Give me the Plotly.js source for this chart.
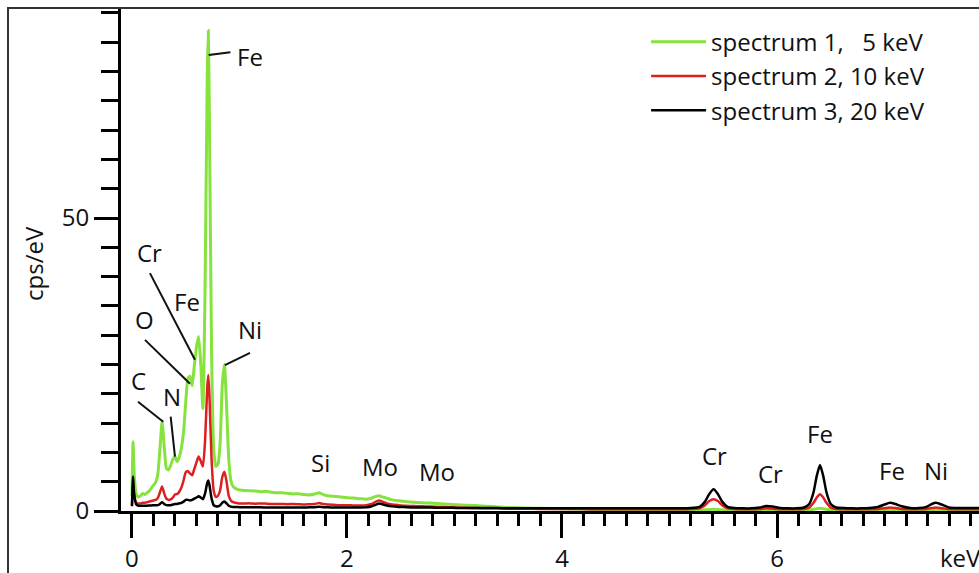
<!DOCTYPE html>
<html>
<head>
<meta charset="utf-8">
<script src="https://cdn.plot.ly/plotly-3.0.1.min.js"></script>
<style>html,body{margin:0;padding:0;background:#fff;}#chart{width:979px;height:573px;}</style>
</head>
<body>
<div id="chart"></div>
<script>
// Energy axis (keV)
const energy = [
  0.00, 0.01, 0.02, 0.04, 0.06, 0.08, 0.10, 0.12, 0.14, 0.16,
  0.18, 0.20, 0.22, 0.24, 0.26, 0.28, 0.30, 0.32, 0.34, 0.36,
  0.38, 0.40, 0.42, 0.44, 0.46, 0.48, 0.50, 0.52, 0.54, 0.56,
  0.58, 0.60, 0.62, 0.64, 0.66, 0.68, 0.70, 0.71, 0.72, 0.74,
  0.76, 0.78, 0.80, 0.82, 0.84, 0.86, 0.88, 0.90, 0.92, 0.94,
  0.96, 0.98, 1.00, 1.05, 1.10, 1.15, 1.20, 1.25, 1.30, 1.35,
  1.40, 1.45, 1.50, 1.55, 1.60, 1.65, 1.70, 1.74, 1.78, 1.82,
  1.88, 1.94, 2.00, 2.06, 2.12, 2.18, 2.23, 2.27, 2.30, 2.33,
  2.37, 2.42, 2.48, 2.55, 2.62, 2.70, 2.78, 2.86, 2.94, 3.02,
  3.10, 3.20, 3.30, 3.40, 3.50, 3.65, 3.80, 3.95, 4.10, 4.25,
  4.40, 4.55, 4.70, 4.85, 5.00, 5.10, 5.20, 5.28, 5.33, 5.37,
  5.41, 5.45, 5.49, 5.54, 5.60, 5.68, 5.76, 5.84, 5.90, 5.96,
  6.03, 6.10, 6.18, 6.25, 6.30, 6.34, 6.37, 6.40, 6.43, 6.46,
  6.50, 6.55, 6.62, 6.70, 6.78, 6.86, 6.94, 7.00, 7.05, 7.10,
  7.16, 7.24, 7.32, 7.39, 7.44, 7.48, 7.53, 7.60, 7.68, 7.76,
  7.84, 7.92
];

// spectrum 1, 5 keV (cps/eV)
const spectrum1 = [
  2.5, 11.8, 6.5, 2.8, 2.4, 2.6, 3.0, 2.8, 3.1, 3.4,
  3.9, 4.4, 4.9, 6.2, 10.5, 15.3, 11.0, 7.3, 7.0, 7.8,
  8.8, 9.3, 8.4, 9.2, 10.8, 13.5, 18.5, 22.6, 23.0, 21.4,
  24.8, 28.0, 29.8, 25.0, 17.5, 38.0, 74.0, 82.0, 68.0, 28.0,
  10.5, 7.6, 8.0, 11.5, 21.5, 25.0, 18.0, 9.0, 5.2, 4.2,
  3.9, 3.7, 3.6, 3.5, 3.45, 3.4, 3.3, 3.35, 3.2, 3.1,
  3.1, 3.0, 2.9, 2.95, 2.8, 2.75, 2.9, 3.1, 2.8, 2.6,
  2.5, 2.4, 2.25, 2.2, 2.1, 2.0, 2.2, 2.5, 2.6, 2.4,
  2.2, 1.9, 1.75, 1.6, 1.5, 1.4, 1.35, 1.25, 1.15, 1.05,
  1.0, 0.95, 0.8, 0.7, 0.6, 0.5, 0.45, 0.4, 0.35, 0.3,
  0.25, 0.2, 0.2, 0.15, 0.15, 0.15, 0.15, 0.15, 0.2, 0.25,
  0.3, 0.25, 0.2, 0.15, 0.15, 0.15, 0.15, 0.15, 0.2, 0.15,
  0.15, 0.15, 0.15, 0.15, 0.2, 0.3, 0.4, 0.45, 0.4, 0.3,
  0.2, 0.15, 0.15, 0.15, 0.15, 0.15, 0.15, 0.15, 0.2, 0.15,
  0.15, 0.15, 0.15, 0.15, 0.15, 0.2, 0.15, 0.15, 0.15, 0.15,
  0.15, 0.15
];

// spectrum 2, 10 keV (cps/eV)
const spectrum2 = [
  1.0, 4.5, 2.5, 1.4, 1.3, 1.3, 1.4, 1.4, 1.5, 1.6,
  1.7, 1.8, 1.9, 2.2, 3.2, 4.2, 3.0, 2.1, 1.9, 2.0,
  2.3, 2.8, 2.9, 3.3, 4.0, 5.2, 6.6, 6.8, 6.4, 6.1,
  7.2, 8.3, 9.3, 8.5, 7.6, 12.0, 21.0, 23.2, 20.0, 9.0,
  3.5, 2.4, 2.6, 3.5, 5.8, 6.7, 5.0, 2.6, 1.8, 1.5,
  1.4, 1.35, 1.3, 1.3, 1.3, 1.25, 1.3, 1.25, 1.2, 1.2,
  1.2, 1.15, 1.2, 1.15, 1.1, 1.15, 1.2, 1.35, 1.2, 1.1,
  1.05, 1.0, 1.0, 0.95, 0.95, 1.0, 1.2, 1.6, 1.8, 1.6,
  1.3, 1.1, 1.0, 0.9, 0.85, 0.8, 0.75, 0.7, 0.65, 0.6,
  0.55, 0.5, 0.45, 0.45, 0.4, 0.4, 0.35, 0.35, 0.35, 0.3,
  0.3, 0.3, 0.3, 0.3, 0.3, 0.3, 0.35, 0.45, 1.0, 1.7,
  2.0, 1.7, 1.0, 0.45, 0.35, 0.3, 0.3, 0.35, 0.45, 0.4,
  0.3, 0.3, 0.3, 0.35, 0.6, 1.4, 2.3, 2.85, 2.3, 1.4,
  0.6, 0.35, 0.3, 0.3, 0.3, 0.3, 0.35, 0.45, 0.6, 0.5,
  0.35, 0.3, 0.3, 0.35, 0.5, 0.6, 0.45, 0.3, 0.3, 0.3,
  0.3, 0.3
];

// spectrum 3, 20 keV (cps/eV)
const spectrum3 = [
  0.8, 5.9, 3.0, 1.1, 0.9, 0.9, 0.9, 0.9, 0.9, 0.95,
  0.95, 1.0, 1.0, 1.0, 1.2, 1.5, 1.2, 1.0, 1.0, 1.0,
  1.1, 1.2, 1.2, 1.3, 1.4, 1.6, 1.9, 1.9, 1.8, 1.9,
  2.1, 2.3, 2.5, 2.3, 2.0, 3.0, 4.8, 5.2, 4.5, 2.2,
  1.0, 0.8, 0.8, 1.0, 1.4, 1.6, 1.3, 0.9, 0.75, 0.7,
  0.7, 0.68, 0.65, 0.65, 0.65, 0.62, 0.62, 0.6, 0.6, 0.6,
  0.6, 0.6, 0.6, 0.6, 0.6, 0.62, 0.65, 0.72, 0.65, 0.62,
  0.6, 0.6, 0.6, 0.6, 0.6, 0.62, 0.8, 1.1, 1.3, 1.15,
  0.95, 0.8, 0.7, 0.65, 0.6, 0.6, 0.58, 0.55, 0.55, 0.52,
  0.5, 0.5, 0.5, 0.5, 0.48, 0.48, 0.45, 0.45, 0.45, 0.45,
  0.45, 0.45, 0.45, 0.45, 0.45, 0.45, 0.5, 0.7, 1.6, 2.9,
  3.7, 2.9, 1.6, 0.7, 0.5, 0.45, 0.45, 0.6, 0.85, 0.75,
  0.5, 0.45, 0.45, 0.6, 1.2, 3.2, 6.0, 7.85, 6.0, 3.2,
  1.2, 0.6, 0.5, 0.45, 0.45, 0.5, 0.7, 1.1, 1.4, 1.2,
  0.8, 0.5, 0.5, 0.7, 1.2, 1.4, 1.1, 0.6, 0.5, 0.5,
  0.5, 0.5
];

const seriesNames = ['spectrum 1,   5 keV', 'spectrum 2, 10 keV', 'spectrum 3, 20 keV'];
const seriesColors = ['#86e23c', '#dc2020', '#000000'];

// Peak labels: [text, energy (keV), cps/eV]
const peakLabels = [
  ['Fe', 1.098, 77.6], ['Cr', 0.167, 44.2], ['Fe', 0.512, 35.7], ['O', 0.112, 32.6],
  ['Ni', 1.098, 30.9], ['C', 0.065, 22.35], ['N', 0.372, 19.6],
  ['Si', 1.758, 8.36], ['Mo', 2.307, 7.51], ['Mo', 2.837, 6.66],
  ['Cr', 5.414, 9.39], ['Cr', 5.935, 6.48], ['Fe', 6.40, 13.3],
  ['Fe', 7.07, 6.83], ['Ni', 7.479, 6.83]
];
// Leader lines: [x0, y0, x1, y1] in keV / cps/eV
const leaderLines = [
  [0.714, 77.8, 0.916, 78.3],
  [0.167, 40.6, 0.586, 25.8],
  [0.121, 29.2, 0.540, 21.7],
  [1.098, 27.0, 0.865, 24.9],
  [0.056, 18.65, 0.291, 15.24],
  [0.360, 16.1, 0.400, 9.27]
];

const allSeries = [spectrum1, spectrum2, spectrum3];
const widths = [3, 2.5, 2.5];
const traces = allSeries.map((ys, i) => ({
  type: 'scatter', mode: 'lines', x: energy, y: ys, name: seriesNames[i],
  line: {color: seriesColors[i], width: widths[i], shape: 'spline', smoothing: 0.5}
}));

const FONT = '"Open Sans", "DejaVu Sans", sans-serif';
const annotations = peakLabels.map(p => ({
  text: p[0], x: p[1], y: p[2], xref: 'x', yref: 'y', showarrow: false,
  xanchor: 'center', yanchor: 'middle', font: {family: FONT, size: 24, color: '#111'}
}));
annotations.push({text: 'cps/eV', xref: 'paper', yref: 'paper', x: -0.1026, y: 0.493,
  textangle: -90, showarrow: false, xanchor: 'center', yanchor: 'middle',
  font: {family: FONT, size: 24, color: '#111'}});
annotations.push({text: 'keV', xref: 'paper', yref: 'paper', x: 0.9522, y: -0.0934,
  showarrow: false, xanchor: 'left', yanchor: 'middle',
  font: {family: FONT, size: 24, color: '#111'}});

const shapes = leaderLines.map(l => ({
  type: 'line', xref: 'x', yref: 'y', x0: l[0], y0: l[1], x1: l[2], y1: l[3],
  line: {color: '#111', width: 2}
}));
shapes.push({type: 'path', xref: 'paper', yref: 'paper',
  path: 'M -0.1317 -0.2 L -0.1317 1.0 L 1.05 1.0',
  line: {color: '#333', width: 2}});

const layout = {
  width: 979, height: 573,
  margin: {l: 121, r: 0, t: 8, b: 62, pad: 0},
  paper_bgcolor: '#fff', plot_bgcolor: '#fff',
  font: {family: FONT, size: 24, color: '#111'},
  showlegend: true,
  legend: {x: 0.612, y: 0.9768, xanchor: 'left', yanchor: 'top', itemwidth: 55,
    bgcolor: 'rgba(0,0,0,0)', font: {family: FONT, size: 24, color: '#111'}},
  xaxis: {range: [-0.102, 7.879], dtick: 2, tick0: 0, ticks: 'outside', ticklen: 24, tickwidth: 3,
    tickcolor: '#000', showline: true, linewidth: 3, linecolor: '#000', showgrid: false,
    zeroline: false, tickfont: {family: FONT, size: 24, color: '#111'}, ticklabelstandoff: 0,
    minor: {dtick: 0.2, tick0: 0, ticks: 'outside', ticklen: 12, tickwidth: 3, tickcolor: '#000', showgrid: false}},
  yaxis: {range: [0, 85.84], dtick: 50, tick0: 0, ticks: 'outside', ticklen: 24, tickwidth: 3,
    tickcolor: '#000', showline: true, linewidth: 3, linecolor: '#000', showgrid: false,
    zeroline: false, tickfont: {family: FONT, size: 24, color: '#111'},
    minor: {dtick: 5, tick0: 0, ticks: 'outside', ticklen: 17, tickwidth: 3, tickcolor: '#000', showgrid: false}},
  annotations: annotations,
  shapes: shapes
};

Plotly.newPlot('chart', traces, layout, {displayModeBar: false, staticPlot: true});
</script>
</body>
</html>
